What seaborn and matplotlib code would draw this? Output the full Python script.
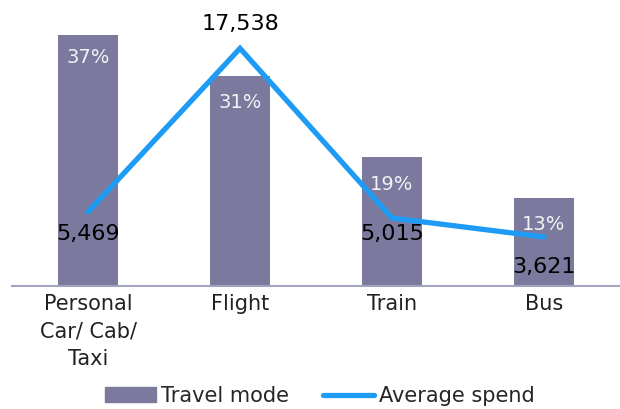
import numpy as np
import matplotlib
matplotlib.use("Agg")
import matplotlib.pyplot as plt
import seaborn as sns
from matplotlib.patches import Patch
from matplotlib.lines import Line2D

# data
modes = ["Personal\nCar/ Cab/\nTaxi", "Flight", "Train", "Bus"]
share_pct = [37, 31, 19, 13]
avg_spend = [5469, 17538, 5015, 3621]
spend_labels = ["5,469", "17,538", "5,015", "3,621"]
# label offsets (px) below/above each line point
spend_offsets = [-22, 24, -16, -30]

bar_color = "#7b7a9e"
line_color = "#1e9cf5"

sns.set_style("white")
plt.rcParams['font.family'] = ['DejaVu Sans']

fig = plt.figure(figsize=(6.2, 4.09), dpi=100)
ax = fig.add_axes([12 / 620, 1 - 286 / 409, 608 / 620, 271 / 409])

sns.barplot(x=modes, y=share_pct, color=bar_color, width=0.4, ax=ax,
            saturation=1, edgecolor="none")
ax.set_ylim(0, 40)
ax.set_xlim(-0.5, 3.5)

for i, v in enumerate(share_pct):
    off = -22 if i == 0 else -27
    ax.annotate(f"{v}%", (i, v), xytext=(0, off), textcoords="offset pixels",
                ha="center", va="center", color="#f2f2f2", fontsize=14)

ax2 = ax.twinx()
x = np.arange(len(modes))
sns.lineplot(x=x, y=avg_spend, color=line_color, linewidth=3.8, ax=ax2,
             solid_capstyle="round", solid_joinstyle="miter")
ax2.set_ylim(0, 20000)
ax2.set_xlim(-0.5, 3.5)
for i, (v, lab) in enumerate(zip(avg_spend, spend_labels)):
    ax2.annotate(lab, (i, v), xytext=(0, spend_offsets[i]), textcoords="offset pixels",
                 ha="center", va="center", color="black", fontsize=16,
                 annotation_clip=False)

for a in (ax, ax2):
    for s in a.spines.values():
        s.set_visible(False)
    a.set_yticks([])
    a.set_ylabel("")
ax.spines["bottom"].set_visible(True)
ax.spines["bottom"].set_color("#a3a3c2")
ax.spines["bottom"].set_linewidth(1.5)
ax.tick_params(axis="x", length=0, pad=6, labelsize=15, colors="#222222")
for t in ax.get_xticklabels():
    t.set_linespacing(1.45)

handles = [Patch(color=bar_color), Line2D([0], [0], color=line_color, linewidth=3.8,
                                          solid_capstyle="round")]
fig.legend(handles, ["Travel mode", "Average spend"], loc="center",
           bbox_to_anchor=(320 / 620, 1 - 396 / 409), ncol=2, frameon=False,
           fontsize=15, handlelength=2.45, handletextpad=0.25, columnspacing=1.6,
           borderpad=0.1)

fig.savefig("out.png", dpi=100)
